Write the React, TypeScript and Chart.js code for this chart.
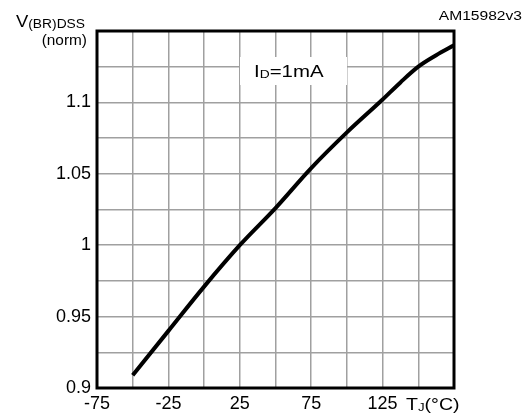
import React, { useEffect, useRef } from "react";
import { Chart, registerables } from "chart.js";

Chart.register(...registerables);

const tempC = [-50, -25, 0, 25, 50, 75, 100, 125, 137.5, 150, 162.5, 175];
const vNorm = [0.909, 0.94, 0.971, 1.0, 1.026, 1.054, 1.079, 1.102, 1.114, 1.125, 1.133, 1.14];
const xTickLabels = [-75, -25, 25, 75, 125];
const yTickLabels = [0.9, 0.95, 1, 1.05, 1.1];
const xMin = -75, xMax = 175, xStep = 25;
const yMin = 0.9, yMax = 1.15, yStep = 0.025;

const FONT = "'Liberation Sans', Arial, sans-serif";

type Seg = { t: string; size: number; dy?: number };

function run(ctx: CanvasRenderingContext2D, segs: Seg[], x: number, y: number, sx: number, align: "left" | "right" = "left") {
  ctx.save();
  let total = 0;
  for (const s of segs) {
    ctx.font = `${s.size}px ${FONT}`;
    total += ctx.measureText(s.t).width;
  }
  const startX = align === "right" ? x - total * sx : x;
  ctx.translate(startX, y);
  ctx.scale(sx, 1);
  ctx.fillStyle = "#000";
  ctx.textBaseline = "alphabetic";
  ctx.textAlign = "left";
  let cx = 0;
  for (const s of segs) {
    ctx.font = `${s.size}px ${FONT}`;
    ctx.fillText(s.t, cx, s.dy || 0);
    cx += ctx.measureText(s.t).width;
  }
  ctx.restore();
}

const decor = {
  id: "decor",
  beforeDatasetsDraw(chart: any) {
    const ctx = chart.ctx as CanvasRenderingContext2D;
    ctx.save();
    ctx.fillStyle = "#fff";
    ctx.fillRect(240, 57, 107, 28);
    ctx.restore();
    run(ctx, [{ t: "I", size: 17 }, { t: "D", size: 11.5, dy: 1 }, { t: "=1mA", size: 17 }], 254, 77, 1.2);
  },
  afterDraw(chart: any) {
    const ctx = chart.ctx as CanvasRenderingContext2D;
    const a = chart.chartArea;
    ctx.save();
    ctx.strokeStyle = "#000";
    ctx.lineWidth = 3;
    ctx.strokeRect(a.left, a.top, a.right - a.left, a.bottom - a.top);
    ctx.restore();
    run(ctx, [{ t: "V", size: 16 }, { t: "(BR)DSS", size: 12, dy: 1 }], 16, 27, 1.15);
    run(ctx, [{ t: "(norm)", size: 14 }], 87, 45, 1.1, "right");
    run(ctx, [{ t: "AM15982v3", size: 12 }], 522, 20, 1.3, "right");
    run(ctx, [{ t: "T", size: 17 }, { t: "J", size: 11.5, dy: 1 }, { t: "(°C)", size: 17 }], 406, 410, 1.15);
  },
};

export default function App() {
  const ref = useRef<HTMLCanvasElement>(null);
  useEffect(() => {
    if (!ref.current) return;
    const chart = new Chart(ref.current, {
      type: "line",
      data: {
        datasets: [
          {
            data: tempC.map((x, i) => ({ x, y: vNorm[i] })),
            borderColor: "#000",
            borderWidth: 4,
            pointRadius: 0,
            cubicInterpolationMode: "monotone",
            fill: false,
          },
        ],
      },
      options: {
        responsive: false,
        animation: false,
        layout: { padding: { top: 31, right: 71, left: 0, bottom: 0 } },
        plugins: { legend: { display: false }, tooltip: { enabled: false } },
        scales: {
          x: {
            type: "linear",
            min: xMin,
            max: xMax,
            afterFit: (s: any) => { s.height = 26; },
            afterBuildTicks: (s: any) => {
              const t = [];
              for (let v = xMin; v <= xMax + 1e-9; v += xStep) t.push({ value: v });
              s.ticks = t;
            },
            grid: { color: "#a0a0a0", lineWidth: 1.5, drawTicks: false },
            border: { display: false },
            ticks: {
              autoSkip: false,
              maxRotation: 0,
              padding: 5,
              color: "#000",
              font: { family: FONT, size: 18 },
              callback: (v: any) => (xTickLabels.includes(Number(v)) ? String(v) : ""),
            },
          },
          y: {
            min: yMin,
            max: yMax,
            afterFit: (s: any) => { s.width = 97; },
            afterBuildTicks: (s: any) => {
              const t = [];
              for (let i = 0; i <= Math.round((yMax - yMin) / yStep); i++) t.push({ value: +(yMin + i * yStep).toFixed(3) });
              s.ticks = t;
            },
            grid: { color: "#a0a0a0", lineWidth: 1.5, drawTicks: false },
            border: { display: false },
            ticks: {
              autoSkip: false,
              padding: 6,
              color: "#000",
              font: { family: FONT, size: 18 },
              callback: (v: any) => {
                const n = Number(v);
                return yTickLabels.some((l) => Math.abs(l - n) < 1e-6) ? String(+n.toFixed(2)) : "";
              },
            },
          },
        },
      },
      plugins: [decor],
    });
    return () => chart.destroy();
  }, []);
  return (
    <canvas
      ref={ref}
      width={525}
      height={414}
      style={{ position: "fixed", left: 0, top: 0, width: 525, height: 414, background: "#fff" }}
    />
  );
}
